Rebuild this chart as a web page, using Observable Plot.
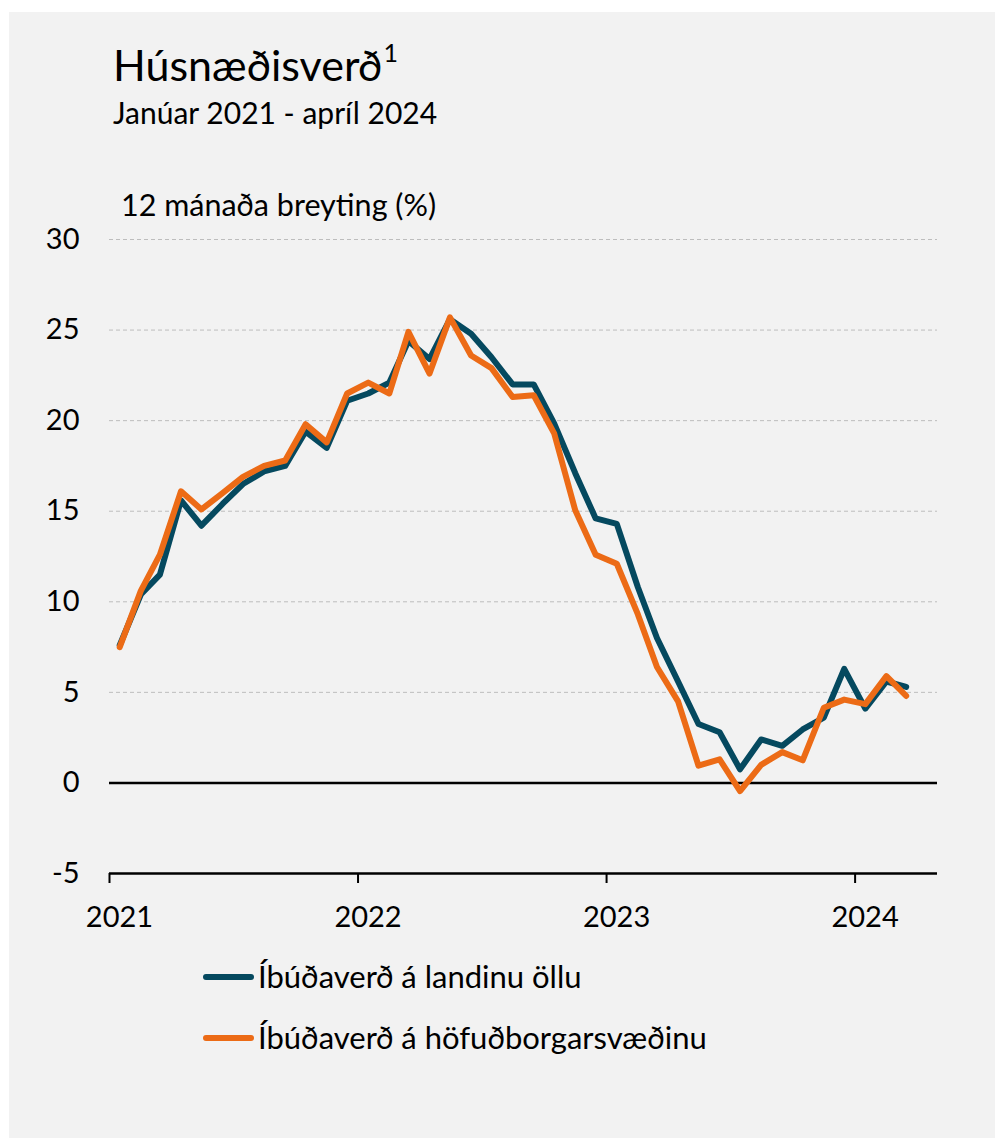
<!DOCTYPE html>
<html>
<head>
<meta charset="utf-8">
<script src="https://cdn.jsdelivr.net/npm/d3@7"></script>
<script src="https://cdn.jsdelivr.net/npm/@observablehq/plot@0.6"></script>
<style>
  html, body { margin: 0; padding: 0; background: #ffffff; }
  body { width: 995px; height: 1138px; position: relative; overflow: hidden; font-family: Lato, "Open Sans", sans-serif; color: #000; }
  #panel { position: absolute; left: 9px; top: 12px; width: 986px; height: 1126px; background: #f2f2f2; }
  .txt { position: absolute; white-space: nowrap; line-height: 1; }
  #title { left: 113px; top: 43px; font-size: 43px; }
  #title sup { font-size: 25px; position: relative; top: -3px; vertical-align: top; margin-left: 1px; }
  #subtitle { left: 113px; top: 97px; font-size: 30px; }
  #ylabel { left: 121px; top: 189px; font-size: 30.5px; }
  #chart { position: absolute; left: 0; top: 180px; }
  .leg { position: absolute; left: 203px; font-size: 31px; line-height: 1; white-space: nowrap; display: flex; align-items: center; }
  .leg .sw { width: 51px; height: 6px; border-radius: 3px; margin-right: 4px; }
</style>
</head>
<body>
<div id="panel"></div>
<div class="txt" id="title">Húsnæðisverð<sup>1</sup></div>
<div class="txt" id="subtitle">Janúar 2021 - apríl 2024</div>
<div class="txt" id="ylabel">12 mánaða breyting (%)</div>
<div id="chart"></div>
<div id="legend"></div>
<script>
// Months (Jan 2021 – Mar 2024)
const months = [
  "2021-01","2021-02","2021-03","2021-04","2021-05","2021-06","2021-07","2021-08","2021-09","2021-10","2021-11","2021-12",
  "2022-01","2022-02","2022-03","2022-04","2022-05","2022-06","2022-07","2022-08","2022-09","2022-10","2022-11","2022-12",
  "2023-01","2023-02","2023-03","2023-04","2023-05","2023-06","2023-07","2023-08","2023-09","2023-10","2023-11","2023-12",
  "2024-01","2024-02","2024-03"
];
// Íbúðaverð á landinu öllu (12-month change, %)
const landid = [
  7.6, 10.4, 11.5, 15.6, 14.2, 15.4, 16.5, 17.2, 17.5, 19.4, 18.5, 21.1,
  21.5, 22.1, 24.4, 23.4, 25.6, 24.8, 23.5, 22.0, 22.0, 19.85, 17.1, 14.6,
  14.3, 10.8, 8.0, 5.6, 3.25, 2.8, 0.75, 2.4, 2.05, 2.95, 3.6, 6.3,
  4.1, 5.6, 5.3
];
// Íbúðaverð á höfuðborgarsvæðinu (12-month change, %)
const hofudborg = [
  7.5, 10.6, 12.6, 16.1, 15.1, 16.0, 16.9, 17.5, 17.8, 19.8, 18.8, 21.5,
  22.1, 21.5, 24.9, 22.6, 25.7, 23.6, 22.9, 21.3, 21.4, 19.3, 15.05, 12.6,
  12.1, 9.3, 6.4, 4.5, 0.95, 1.3, -0.45, 1.0, 1.7, 1.25, 4.15, 4.6,
  4.35, 5.9, 4.8
];
const seriesNames = ["Íbúðaverð á landinu öllu", "Íbúðaverð á höfuðborgarsvæðinu"];
const seriesColors = ["#05495f", "#ec6b16"];
const yTicks = [-5, 0, 5, 10, 15, 20, 25, 30];
const gridTicks = [5, 10, 15, 20, 25, 30];
const yearTicks = ["2021-01-01", "2022-01-01", "2023-01-01", "2024-01-01"];

const mid = (m) => new Date(m + "-16T00:00:00Z");
const rows = [];
months.forEach((m, i) => {
  rows.push({date: mid(m), value: landid[i], series: seriesNames[0]});
  rows.push({date: mid(m), value: hofudborg[i], series: seriesNames[1]});
});
const years = yearTicks.map(d => new Date(d + "T00:00:00Z"));

const chart = Plot.plot({
  width: 995,
  height: 740,
  marginLeft: 109,
  marginRight: 58,
  marginTop: 59,
  marginBottom: 47,
  style: {background: "transparent", fontFamily: "Lato, 'Open Sans', sans-serif", fontSize: "29px", color: "#000", overflow: "visible"},
  x: {type: "utc", domain: [new Date("2021-01-01T00:00:00Z"), new Date("2024-05-01T00:00:00Z")], label: null},
  y: {domain: [-5, 30], label: null},
  color: {domain: seriesNames, range: seriesColors},
  marks: [
    Plot.gridY(gridTicks, {stroke: "#bdbdbd", strokeOpacity: 1, strokeWidth: 1, strokeDasharray: "4,3"}),
    Plot.axisY(yTicks, {tickSize: 0, tickPadding: 30, fill: "#000", label: null, tickFormat: d => String(d)}),
    Plot.ruleY([0], {stroke: "#000", strokeWidth: 2.5}),
    Plot.ruleY([-5], {stroke: "#000", strokeWidth: 2.5}),
    Plot.axisX(years, {tickSize: 10, strokeWidth: 2, stroke: "#000", tickFormat: () => "", label: null}),
    Plot.axisX(years, {tickSize: 0, tickPadding: 33, dx: 10, tickFormat: d3.utcFormat("%Y"), fill: "#000", label: null}),
    Plot.line(rows, {x: "date", y: "value", z: "series", stroke: "series", strokeWidth: 6, strokeLinejoin: "round", strokeLinecap: "round"})
  ]
});
document.getElementById("chart").appendChild(chart);

// Legend
const legend = document.getElementById("legend");
const legTops = [961, 1022];
seriesNames.forEach((name, i) => {
  const div = document.createElement("div");
  div.className = "leg";
  div.style.top = legTops[i] + "px";
  const sw = document.createElement("span");
  sw.className = "sw";
  sw.style.background = seriesColors[i];
  const t = document.createElement("span");
  t.textContent = name;
  div.appendChild(sw);
  div.appendChild(t);
  legend.appendChild(div);
});
</script>
</body>
</html>
